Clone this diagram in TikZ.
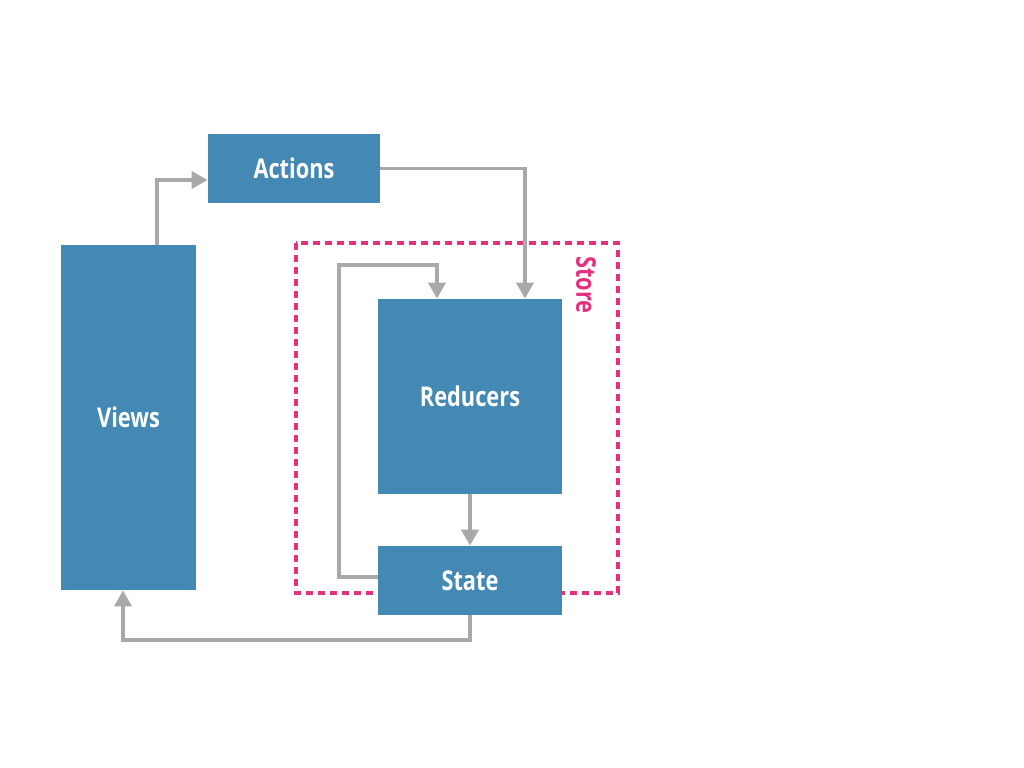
\documentclass[tikz,border=0pt]{standalone}
\usepackage{fontspec}
\setmainfont{Open Sans}[FakeStretch=0.8]
\usetikzlibrary{arrows.meta}
\definecolor{boxblue}{HTML}{4389B4}
\definecolor{flowgray}{HTML}{A9A9A9}
\definecolor{storepink}{HTML}{E5307D}
\begin{document}
\begin{tikzpicture}[every node/.style={rectangle,fill=boxblue,text=white,inner sep=0pt,
				font=\fontsize{15.5}{18}\selectfont\bfseries},
				flow/.style={draw=flowgray,line width=2.2pt,-{Triangle[length=0.32cm,width=0.34cm]}},
				store/.style={draw=storepink,line width=2.1pt,dash pattern=on 0.15cm off 0.09cm}]
\useasboundingbox (0,0) rectangle (20.48,-15.36);
% store
\draw[store] (5.92,-4.86) rectangle (12.36,-11.86);
\node[fill=none,text=storepink,rotate=-90] (storelabel) at (11.72,-5.7) {Store};
% boxes
\node[minimum width=2.7cm,minimum height=6.9cm] (views) at (2.57,-8.35) {Views};
\node[minimum width=3.44cm,minimum height=1.38cm] (actions) at (5.88,-3.37) {Actions};
\node[minimum width=3.68cm,minimum height=3.9cm] (reducers) at (9.4,-7.93) {Reducers};
\node[minimum width=3.68cm,minimum height=1.38cm] (state) at (9.4,-11.61) {State};
\coordinate (loop) at (6.78,-5.3);
% arrows
\draw[flow] ([xshift=0.57cm]views.north) |- ([yshift=-0.23cm]actions.west);
\draw[flow] (actions.east) -| ([xshift=1.1cm]reducers.north);
\draw[flow] ([yshift=0.07cm]state.west) -| (loop) -| ([xshift=-0.66cm]reducers.north);
\draw[flow] (reducers.south) -- (state.north);
\draw[flow] (state.south) -- ++(0,-0.5) -| ([xshift=-0.11cm]views.south);
\end{tikzpicture}
\end{document}
